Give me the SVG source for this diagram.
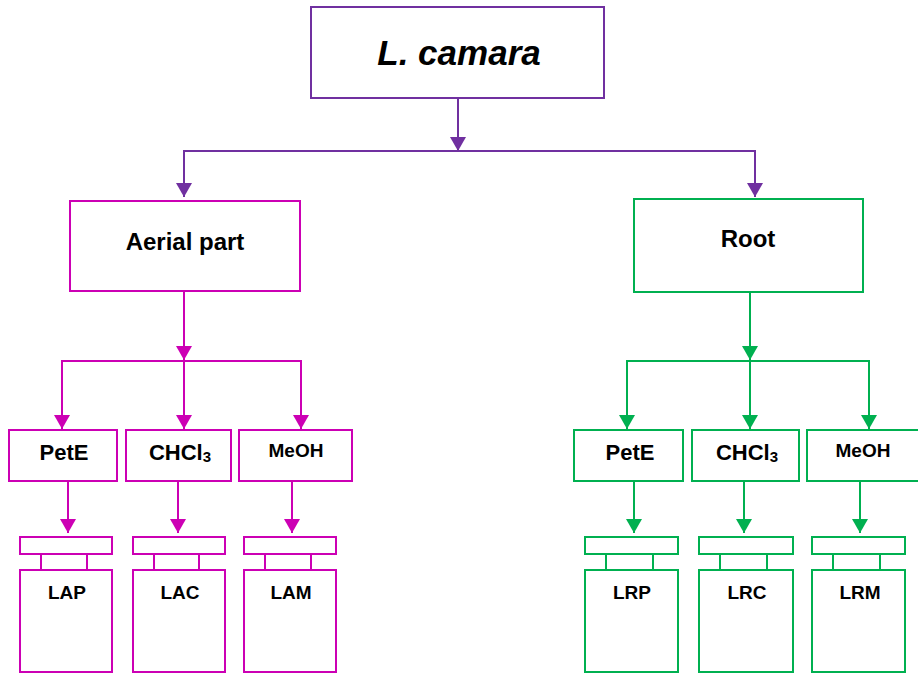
<svg xmlns="http://www.w3.org/2000/svg" width="918" height="675" viewBox="0 0 918 675">
<defs>
<marker id="ap" markerUnits="userSpaceOnUse" markerWidth="15" markerHeight="16" refX="14" refY="8" orient="auto"><path d="M0,0 L14,8 L0,16 z" fill="#7030A0"/></marker>
<marker id="am" markerUnits="userSpaceOnUse" markerWidth="15" markerHeight="16" refX="14" refY="8" orient="auto"><path d="M0,0 L14,8 L0,16 z" fill="#CC00B4"/></marker>
<marker id="ag" markerUnits="userSpaceOnUse" markerWidth="15" markerHeight="16" refX="14" refY="8" orient="auto"><path d="M0,0 L14,8 L0,16 z" fill="#00B050"/></marker>
<style>
rect{fill:#fff;stroke-width:2}
.p{stroke:#7030A0}
.m{stroke:#CC00B4}
.g{stroke:#00B050}
path.c{fill:none;stroke-width:2}
text{font-family:"Liberation Sans",Arial,sans-serif;font-weight:bold;fill:#000;text-anchor:middle}
.t1{font-size:35px;font-style:italic}
.t2{font-size:24px}
.t3{font-size:22px}
.t4{font-size:19px}
</style>
</defs>
<g id="connectors">
<path class="c p" d="M458,98 V151" marker-end="url(#ap)"/>
<path class="c p" d="M184,197 V151 H755 V197" marker-end="url(#ap)"/>
<path class="c p" d="M184,151 V197" marker-end="url(#ap)"/>
<path class="c m" stroke-width="1.5" d="M184,291 V360" marker-end="url(#am)"/>
<path class="c m" d="M62,429 V361 H301 V429" marker-end="url(#am)"/>
<path class="c m" d="M62,361 V429" marker-end="url(#am)"/>
<path class="c m" d="M184,361 V429" marker-end="url(#am)"/>
<path class="c g" d="M750,292 V360" marker-end="url(#ag)"/>
<path class="c g" d="M627,429 V361 H869 V429" marker-end="url(#ag)"/>
<path class="c g" d="M627,361 V429" marker-end="url(#ag)"/>
<path class="c g" d="M750,361 V429" marker-end="url(#ag)"/>
<path class="c m" d="M68,481 V533" marker-end="url(#am)"/>
<path class="c m" d="M178,481 V533" marker-end="url(#am)"/>
<path class="c m" d="M292,481 V533" marker-end="url(#am)"/>
<path class="c g" d="M634,481 V533" marker-end="url(#ag)"/>
<path class="c g" d="M744,481 V533" marker-end="url(#ag)"/>
<path class="c g" d="M860,481 V533" marker-end="url(#ag)"/>
</g>
<g id="lcamara"><rect class="p" x="311" y="7" width="293" height="91"/><text class="t1" x="459" y="65">L. camara</text></g>
<g id="aerial"><rect class="m" x="70" y="201" width="230" height="90"/><text class="t2" x="185" y="250">Aerial part</text></g>
<g id="root"><rect class="g" x="634" y="199" width="229" height="93"/><text class="t2" x="748" y="247">Root</text></g>
<g id="a-pete"><rect class="m" x="9" y="430" width="108" height="51"/><text class="t3" x="64" y="460">PetE</text></g>
<g id="a-chcl3"><rect class="m" x="126" y="430" width="105" height="51"/><text class="t3" x="180" y="460">CHCl<tspan font-size="15" dy="2">3</tspan></text></g>
<g id="a-meoh"><rect class="m" x="239" y="430" width="113" height="51"/><text class="t4" x="296" y="457">MeOH</text></g>
<g id="r-pete"><rect class="g" x="574" y="430" width="109" height="51"/><text class="t3" x="630" y="460">PetE</text></g>
<g id="r-chcl3"><rect class="g" x="692" y="430" width="107" height="51"/><text class="t3" x="747" y="460">CHCl<tspan font-size="15" dy="2">3</tspan></text></g>
<g id="r-meoh"><rect class="g" x="807" y="430" width="113" height="51"/><text class="t4" x="863" y="457">MeOH</text></g>
<g id="lap"><rect class="m" x="20" y="537" width="92" height="17"/><rect class="m" x="41" y="554" width="46" height="16"/><rect class="m" x="20" y="570" width="92" height="102"/><text class="t4" x="67" y="599">LAP</text></g>
<g id="lac"><rect class="m" x="133" y="537" width="92" height="17"/><rect class="m" x="154" y="554" width="45" height="16"/><rect class="m" x="133" y="570" width="92" height="102"/><text class="t4" x="180" y="599">LAC</text></g>
<g id="lam"><rect class="m" x="244" y="537" width="92" height="17"/><rect class="m" x="265" y="554" width="46" height="16"/><rect class="m" x="244" y="570" width="92" height="102"/><text class="t4" x="291" y="599">LAM</text></g>
<g id="lrp"><rect class="g" x="585" y="537" width="93" height="17"/><rect class="g" x="606" y="554" width="47" height="16"/><rect class="g" x="585" y="570" width="93" height="102"/><text class="t4" x="632" y="599">LRP</text></g>
<g id="lrc"><rect class="g" x="699" y="537" width="94" height="17"/><rect class="g" x="720" y="554" width="47" height="16"/><rect class="g" x="699" y="570" width="94" height="102"/><text class="t4" x="747" y="599">LRC</text></g>
<g id="lrm"><rect class="g" x="812" y="537" width="93" height="17"/><rect class="g" x="833" y="554" width="47" height="16"/><rect class="g" x="812" y="570" width="93" height="102"/><text class="t4" x="860" y="599">LRM</text></g>
</svg>
